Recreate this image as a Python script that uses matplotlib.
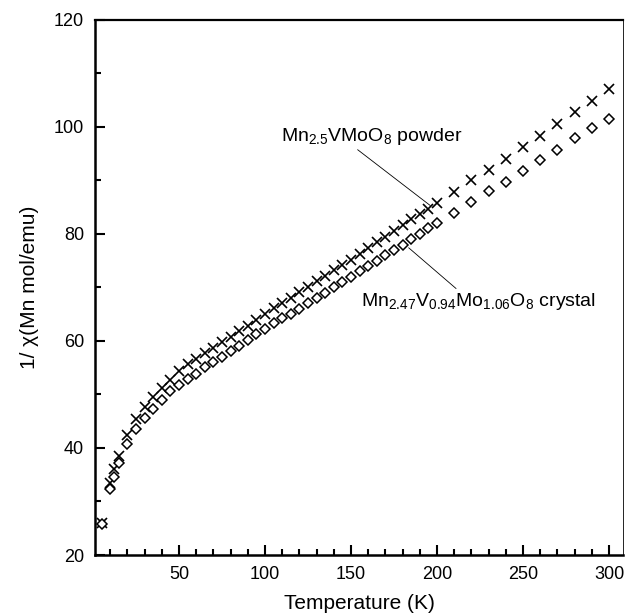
import matplotlib
matplotlib.use("Agg")
import matplotlib.pyplot as plt
from matplotlib.ticker import MultipleLocator

plt.rcParams['font.family'] = ['Liberation Sans', 'DejaVu Sans']
plt.rcParams['mathtext.fontset'] = 'custom'
plt.rcParams['mathtext.rm'] = 'Liberation Sans'
plt.rcParams['mathtext.it'] = 'Liberation Sans:italic'
plt.rcParams['mathtext.default'] = 'regular'

temperature = [5, 10, 12.5, 15, 20, 25, 30, 35, 40, 45, 50, 55, 60, 65, 70, 75, 80, 85, 90, 95,
               100, 105, 110, 115, 120, 125, 130, 135, 140, 145, 150, 155, 160, 165, 170, 175,
               180, 185, 190, 195, 200, 210, 220, 230, 240, 250, 260, 270, 280, 290, 300]
powder = [26.0, 33.4, 36.0, 38.5, 42.4, 45.5, 47.7, 49.6, 51.2, 52.7, 54.3, 55.6, 56.7, 57.7,
          58.7, 59.8, 60.8, 61.8, 62.8, 63.9, 65.0, 66.1, 67.1, 68.1, 69.1, 70.1, 71.1, 72.2,
          73.2, 74.2, 75.2, 76.2, 77.3, 78.4, 79.4, 80.5, 81.6, 82.7, 83.7, 84.7, 85.7, 87.8,
          90.0, 91.9, 94.0, 96.2, 98.3, 100.5, 102.7, 104.9, 107.0]
crystal = [25.8, 32.4, 34.6, 37.2, 40.8, 43.5, 45.6, 47.2, 49.0, 50.6, 51.8, 52.8, 53.9, 55.1,
           56.1, 57.0, 58.1, 59.1, 60.2, 61.3, 62.3, 63.3, 64.2, 65.1, 66.0, 67.0, 68.0, 69.0,
           70.0, 71.0, 72.0, 73.0, 74.0, 75.0, 76.0, 77.0, 78.0, 79.0, 80.0, 81.0, 82.0, 83.9,
           85.9, 88.0, 89.7, 91.8, 93.7, 95.7, 97.9, 99.8, 101.4]

powder_label = r'Mn$_{2.5}$VMoO$_8$ powder'
crystal_label = r'Mn$_{2.47}$V$_{0.94}$Mo$_{1.06}$O$_8$ crystal'
xlabel = 'Temperature (K)'
ylabel = '1/ χ(Mn mol/emu)'

fig = plt.figure(figsize=(6.26, 6.16), dpi=100)
ax = fig.add_axes([0.152, 0.099, 0.843, 0.869])

ax.plot(temperature, powder, linestyle='none', marker='x', markersize=7.5,
        markeredgewidth=1.2, color='black')
ax.plot(temperature, crystal, linestyle='none', marker='D', markersize=4.7,
        markeredgewidth=1.1, markerfacecolor='white', markeredgecolor='black')

ax.set_xlim(1.3, 308)
ax.set_ylim(20, 120)
ax.xaxis.set_major_locator(MultipleLocator(50))
ax.xaxis.set_minor_locator(MultipleLocator(10))
ax.yaxis.set_major_locator(MultipleLocator(20))
ax.yaxis.set_minor_locator(MultipleLocator(10))
ax.tick_params(which='both', direction='in', top=False, right=False, labelsize=13, pad=8)
ax.tick_params(which='major', length=7, width=1.5)
ax.tick_params(which='minor', length=4.5, width=1.5)

for s in ['left', 'bottom']:
    ax.spines[s].set_linewidth(1.8)
ax.spines['top'].set_linewidth(1.6)
ax.spines['right'].set_linewidth(0.6)

ax.set_xlabel(xlabel, fontsize=15, labelpad=8)
ax.set_ylabel(ylabel, fontsize=15, labelpad=11)

ax.annotate(powder_label, xy=(196, 85.3), xytext=(215, 98.2), ha='right', va='center',
            fontsize=14, arrowprops=dict(arrowstyle='-', lw=0.6, color='black',
                                         shrinkA=0, shrinkB=0,
                                         relpos=(0.4, 0.0)))
ax.annotate(crystal_label, xy=(183.5, 77.4), xytext=(155.6, 67.3), ha='left', va='center',
            fontsize=14, arrowprops=dict(arrowstyle='-', lw=0.6, color='black',
                                         shrinkA=0, shrinkB=0,
                                         relpos=(0.42, 1.0)))

fig.savefig('out.png', dpi=100)
